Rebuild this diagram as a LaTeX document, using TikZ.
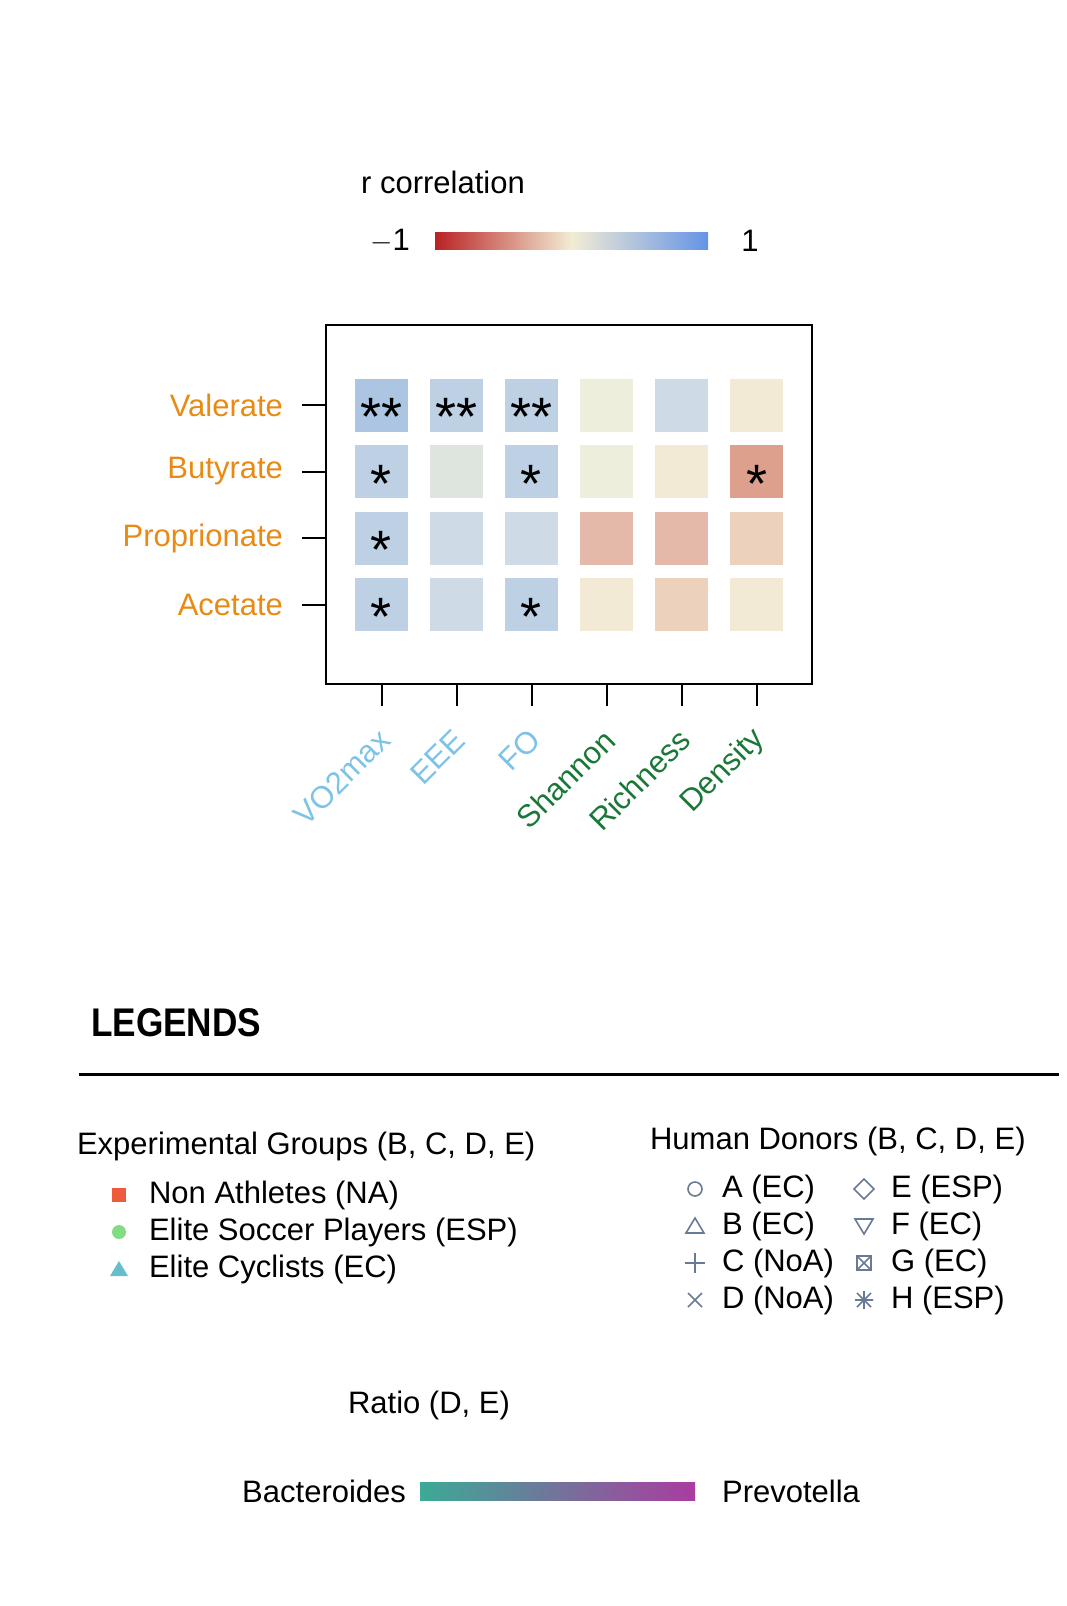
\documentclass[tikz,border=0pt]{standalone}
\usepackage{fontspec}
\setmainfont{Liberation Sans}
\usetikzlibrary{positioning}
\definecolor{rowc}{RGB}{232,138,20}
\definecolor{physc}{RGB}{125,195,232}
\definecolor{microc}{RGB}{25,120,55}
\definecolor{mkc}{RGB}{105,122,150}
\definecolor{cA}{RGB}{172,197,226}
\definecolor{cB}{RGB}{190,208,228}
\definecolor{cC}{RGB}{206,219,230}
\definecolor{cD}{RGB}{238,238,220}
\definecolor{cE}{RGB}{242,234,212}
\definecolor{cF}{RGB}{222,228,222}
\definecolor{cG}{RGB}{220,160,140}
\definecolor{cH}{RGB}{228,185,170}
\definecolor{cI}{RGB}{236,210,188}
\definecolor{cbred}{RGB}{185,35,35}
\definecolor{cbmid}{RGB}{242,236,212}
\definecolor{cbblue}{RGB}{100,148,230}
\definecolor{bact}{RGB}{60,170,150}
\definecolor{prev}{RGB}{170,60,160}
\definecolor{naC}{RGB}{240,90,60}
\definecolor{espC}{RGB}{130,220,130}
\definecolor{ecC}{RGB}{100,190,205}
\begin{document}
\begin{tikzpicture}[x=0.5pt,y=-0.5pt,
  cell/.style={minimum size=26.5pt,inner sep=0pt,font=\fontsize{27}{27}\selectfont},
  rowlab/.style={anchor=east,text=rowc,font=\fontsize{15.5}{18}\selectfont},
  collab/.style={anchor=east,rotate=45,font=\fontsize{15.5}{18}\selectfont},
  legtxt/.style={anchor=west,font=\fontsize{15.5}{18}\selectfont},
  mk/.style={draw=mkc,line width=0.8pt}]
\useasboundingbox (0,0) rectangle (1066,1606);

% colour key
\node (rtitle) at (443,182) [font=\fontsize{15.5}{18}\selectfont] {r correlation};
\shade[left color=cbred,right color=cbblue,middle color=cbmid] (435,232) rectangle (708,249);
\node (kmin) at (390,241) [font=\fontsize{15.5}{18}\selectfont] {$-$1};
\node (kmax) at (750,241) [font=\fontsize{15.5}{18}\selectfont] {1};

% frame
\draw[line width=1pt] (326,325) rectangle (812,684);

% rows
\foreach \y/\lab/\nm in {405/Valerate/val,471.5/Butyrate/but,538/Proprionate/pro,604.5/Acetate/ace}{
  \node[rowlab] (\nm) at (290,\y) {\lab};
  \draw[line width=1pt] (302,\y) -- (326,\y);
}
% columns
\foreach \x/\lab/\col/\nm in {381.5/VO2max/physc/vo,456.5/EEE/physc/eee,531.5/FO/physc/fo,606.5/Shannon/microc/sha,681.5/Richness/microc/ric,756.5/Density/microc/den}{
  \draw[line width=1pt] (\x,684) -- (\x,706);
  \node[collab,text=\col] (\nm) at (\x+8,730) {\lab};
}

% cells
\foreach \c/\x in {1/381.5,2/456.5,3/531.5,4/606.5,5/681.5,6/756.5}{
  \foreach \r/\y in {1/405,2/471.5,3/538,4/604.5}{
    \coordinate (p\r\c) at (\x,\y);
  }
}
\foreach \r/\c/\f/\s in {1/1/cA/{**},1/2/cB/{**},1/3/cB/{**},1/4/cD/{},1/5/cC/{},1/6/cE/{},
  2/1/cB/{*},2/2/cF/{},2/3/cB/{*},2/4/cD/{},2/5/cE/{},2/6/cG/{*},
  3/1/cB/{*},3/2/cC/{},3/3/cC/{},3/4/cH/{},3/5/cH/{},3/6/cI/{},
  4/1/cB/{*},4/2/cC/{},4/3/cB/{*},4/4/cE/{},4/5/cI/{},4/6/cE/{}}{
  \node[cell,fill=\f] (c\r\c) at (p\r\c) {\raisebox{-0.42em}[0.3em][0pt]{\s}};
}

% legends
\node (leg) at (84,1023) [anchor=west,font=\fontsize{20}{22}\selectfont\bfseries] {\addfontfeature{FakeStretch=0.88}LEGENDS};
\draw[line width=1.5pt] (79,1074) -- (1059,1074);

\node[legtxt] (grp) at (70,1146) {Experimental Groups (B, C, D, E)};
\node[legtxt] (na) at (142,1195) {Non Athletes (NA)};
\node[legtxt] (esp) at (142,1232) {Elite Soccer Players (ESP)};
\node[legtxt] (ec) at (142,1269) {Elite Cyclists (EC)};
\fill[naC] (112,1188) rectangle (126,1202);
\fill[espC] (119,1232) circle (7);
\fill[ecC] (110,1276) -- (128,1276) -- (119,1261) -- cycle;

\node[legtxt] (hd) at (643,1141) {Human Donors (B, C, D, E)};
\node[legtxt] (dA) at (715,1189) {A (EC)};
\node[legtxt] (dB) at (715,1226) {B (EC)};
\node[legtxt] (dC) at (715,1263) {C (NoA)};
\node[legtxt] (dD) at (715,1300) {D (NoA)};
\node[legtxt] (dE) at (884,1189) {E (ESP)};
\node[legtxt] (dF) at (884,1226) {F (EC)};
\node[legtxt] (dG) at (884,1263) {G (EC)};
\node[legtxt] (dH) at (884,1300) {H (ESP)};
\draw[mk] (695,1189) circle (7);
\draw[mk] (686,1233) -- (704,1233) -- (695,1218) -- cycle;
\draw[mk] (685,1263) -- (705,1263) (695,1253) -- (695,1273);
\draw[mk] (688,1293) -- (702,1307) (688,1307) -- (702,1293);
\draw[mk] (864,1179) -- (874,1189) -- (864,1199) -- (854,1189) -- cycle;
\draw[mk] (855,1219) -- (873,1219) -- (864,1234) -- cycle;
\draw[mk] (857,1256) rectangle (871,1270) (857,1256) -- (871,1270) (857,1270) -- (871,1256);
\draw[mk] (855,1300) -- (873,1300) (864,1291) -- (864,1309) (857,1293) -- (871,1307) (857,1307) -- (871,1293);

% ratio bar
\node (ratio) at (429,1405) [font=\fontsize{15.5}{18}\selectfont] {Ratio (D, E)};
\shade[left color=bact,right color=prev] (420,1482) rectangle (695,1500);
\node (bac) at (413,1491) [anchor=east,font=\fontsize{15.5}{18}\selectfont] {Bacteroides};
\node (pre) at (715,1491) [anchor=west,font=\fontsize{15.5}{18}\selectfont] {Prevotella};
\end{tikzpicture}
\end{document}
